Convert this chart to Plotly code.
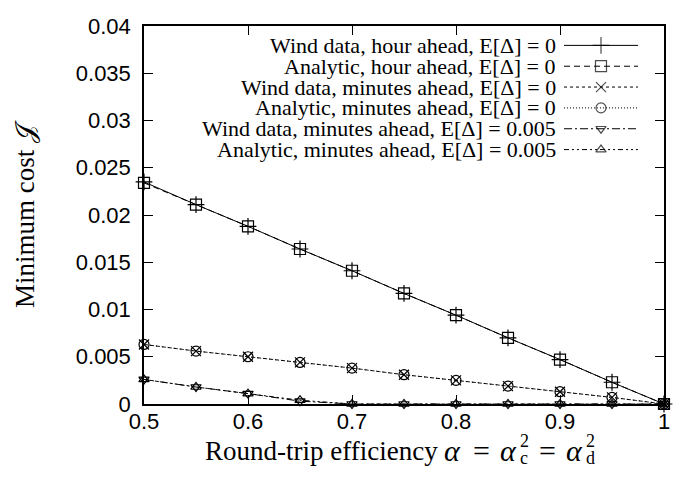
import plotly.graph_objects as go

alpha = [0.5, 0.55, 0.6, 0.65, 0.7, 0.75, 0.8, 0.85, 0.9, 0.95, 1.0]

wind_hour_0 = [0.0235, 0.0211, 0.0188, 0.0164, 0.0141, 0.0117, 0.0094, 0.0070, 0.0047, 0.0023, 0.0]
analytic_hour_0 = [0.0234, 0.0211, 0.0188, 0.0164, 0.0141, 0.0117, 0.0094, 0.0070, 0.0047, 0.0023, 0.0]
wind_min_0 = [0.0063, 0.0056, 0.0050, 0.0044, 0.0038, 0.0031, 0.0025, 0.0019, 0.0013, 0.0007, 0.0]
analytic_min_0 = [0.0063, 0.0056, 0.0050, 0.0044, 0.0038, 0.0031, 0.0025, 0.0019, 0.0013, 0.0007, 0.0]
wind_min_005 = [0.0026, 0.0018, 0.0011, 0.0003, 0.0, 0.0, 0.0, 0.0, 0.0, 0.0, 0.0]
analytic_min_005 = [0.0026, 0.0018, 0.0011, 0.0004, 0.0, 0.0, 0.0, 0.0, 0.0, 0.0, 0.0]

labels = [
    "Wind data, hour ahead, E[Δ] = 0",
    "Analytic, hour ahead, E[Δ] = 0",
    "Wind data, minutes ahead, E[Δ] = 0",
    "Analytic, minutes ahead, E[Δ] = 0",
    "Wind data, minutes ahead, E[Δ] = 0.005",
    "Analytic, minutes ahead, E[Δ] = 0.005",
]
series = [wind_hour_0, analytic_hour_0, wind_min_0, analytic_min_0, wind_min_005, analytic_min_005]
symbols = ["cross-thin-open", "square-open", "x-thin-open", "circle-open", "triangle-down-open", "triangle-up-open"]
sizes = [12, 11, 10, 10, 9, 9]
dashes = ["solid", "6px,4px", "3px,3px", "1px,2px", "8px,3px,2px,3px", "5px,3px,2px,3px,2px,3px"]

SERIF = "Liberation Serif, Times New Roman, serif"
SANS = "Liberation Sans, Arial, sans-serif"

# page pixel geometry of the plot frame (page body has an 8px default margin)
BODY = 8
FX0, FX1, FY0, FY1 = 144, 664, 14, 404

fig = go.Figure()
for vals, sym, sz, dsh, lab in zip(series, symbols, sizes, dashes, labels):
    fig.add_trace(go.Scatter(
        x=alpha, y=vals, mode="lines+markers", name=lab, showlegend=False,
        line=dict(color="black", width=1, dash=dsh),
        marker=dict(symbol=sym, size=sz, color="black", line=dict(color="black", width=1.2)),
        cliponaxis=False,
    ))

# gnuplot-style key (text right-aligned, sample to the right) on a pixel overlay axis
row_y = [34, 55.5, 77, 98.5, 120, 141.5]
annotations = []
for ry, sym, sz, dsh, lab in zip(row_y, symbols, sizes, dashes, labels):
    fig.add_trace(go.Scatter(
        x=[564, 601, 638], y=[ry, ry, ry], xaxis="x2", yaxis="y2", mode="lines+markers",
        showlegend=False, hoverinfo="skip",
        line=dict(color="black", width=1, dash=dsh),
        marker=dict(symbol=sym, size=[0, sz, 0], color="black", line=dict(color="black", width=1.2)),
    ))
    annotations.append(dict(x=558, y=ry, xref="x2", yref="y2", text=lab, showarrow=False,
                            xanchor="right", yanchor="middle",
                            font=dict(family=SERIF, size=22, color="black")))


def px(xp):
    return (xp - FX0) / (FX1 - FX0)


def py(yp):
    return (FY1 - yp) / (FY1 - FY0)


tfont = dict(family=SERIF, size=27, color="black")
afont = dict(family=SERIF, size=30, color="black")
efont = dict(family=SERIF, size=30, color="black")
sfont = dict(family=SERIF, size=18, color="black")
ty = 452
# x title assembled piecewise so that sub- and superscripts stack like LaTeX
pieces = [
    ("Round-trip efficiency", 203, ty, "left", tfont),
    ("<i>α</i>", 442, ty, "left", afont),
    ("=", 481, ty, "center", efont),
    ("<i>α</i>", 498, ty, "left", afont),
    ("c", 518, ty + 8, "left", sfont),
    ("2", 518, ty - 10, "left", sfont),
    ("=", 547, ty, "center", efont),
    ("<i>α</i>", 564, ty, "left", afont),
    ("d", 584, ty + 8, "left", sfont),
    ("2", 584, ty - 10, "left", sfont),
]
for txt, xp, yp, xa, fnt in pieces:
    annotations.append(dict(xref="paper", yref="paper", x=px(xp), y=py(yp), xanchor=xa,
                            yanchor="middle", text=txt, showarrow=False, font=fnt))
annotations.append(dict(xref="paper", yref="paper", x=px(25), y=py(208), text="Minimum cost 𝒥",
                        textangle=-90, showarrow=False, xanchor="center", yanchor="middle",
                        font=tfont))

axis_common = dict(showline=True, linecolor="black", linewidth=1.5, mirror="allticks",
                   ticks="inside", ticklen=9, tickwidth=1.2, tickcolor="black",
                   showgrid=False, zeroline=False, ticklabeloverflow="allow",
                   tickfont=dict(family=SANS, size=22, color="black"))

fig.update_layout(
    width=693, height=480,
    margin=dict(l=FX0 - BODY, r=693 - (FX1 - BODY), t=FY0 - BODY, b=480 - (FY1 - BODY)),
    paper_bgcolor="white", plot_bgcolor="white",
    xaxis=dict(range=[0.5, 1.0], dtick=0.1, tick0=0.5, ticklabelstandoff=-3, **axis_common),
    yaxis=dict(range=[0, 0.04], dtick=0.005, tick0=0, ticklabelstandoff=7, **axis_common),
    xaxis2=dict(overlaying="x", range=[FX0, FX1], visible=False, anchor="y2"),
    yaxis2=dict(overlaying="y", range=[FY1, FY0], visible=False, anchor="x2"),
    annotations=annotations,
)

fig.write_html("out.html")
